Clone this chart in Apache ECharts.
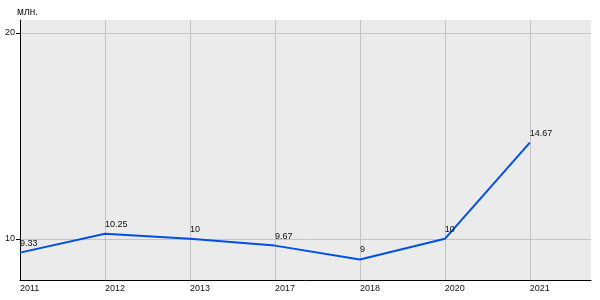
<!DOCTYPE html>
<html><head><meta charset="utf-8">
<script src="https://cdn.jsdelivr.net/npm/echarts@6/dist/echarts.min.js"></script>
<style>html,body{margin:0;padding:0;background:#fff}#c{width:600px;height:300px}</style>
</head><body><div id="c"></div>
<script>
const years = ['2011','2012','2013','2017','2018','2020','2021'];
const values = [9.33, 10.25, 10, 9.67, 9, 10, 14.67];
const yTicks = [10, 20];
const yName = 'млн.';

const chart = echarts.init(document.getElementById('c'), null, {renderer:'canvas'});
const font = 'Arial, Liberation Sans, sans-serif';
const xIdx = years.map((y,i)=>i);
chart.setOption({
  animation:false,
  grid:{left:20,right:9,top:20,bottom:20,show:true,backgroundColor:'#ebebeb',borderWidth:0},
  xAxis:{type:'value',min:0,max:6.72,
    axisLine:{show:true,onZero:false,lineStyle:{color:'#000',width:1}},
    axisTick:{show:false,customValues:xIdx},
    axisLabel:{customValues:xIdx,formatter:v=>years[Math.round(v)]??'',color:'#111',fontFamily:font,fontSize:9,margin:4,align:'left'},
    splitLine:{show:true,lineStyle:{color:'#c4c4c4',width:1}}
  },
  yAxis:{type:'value',min:8,max:20.63,name:yName,nameGap:3,nameTextStyle:{color:'#111',fontFamily:font,fontSize:10,align:'left',padding:[0,0,0,-3]},
    axisLine:{show:true,onZero:false,lineStyle:{color:'#000',width:1}},
    axisTick:{show:true,customValues:yTicks,length:4,lineStyle:{color:'#000'}},
    axisLabel:{customValues:yTicks,color:'#111',fontFamily:font,fontSize:9,margin:5,verticalAlign:'middle',padding:[0,0,6,0]},
    splitLine:{show:true,lineStyle:{color:'#c4c4c4',width:1}}
  },
  series:[{type:'line',data:values.map((v,i)=>[i,v]),symbol:'circle',symbolSize:0,showSymbol:true,
    lineStyle:{color:'#0050e6',width:2},
    label:{show:true,position:'top',align:'left',distance:5,color:'#111',fontFamily:font,fontSize:9,formatter:p=>String(p.value[1])}
  }]
});
</script></body></html>
